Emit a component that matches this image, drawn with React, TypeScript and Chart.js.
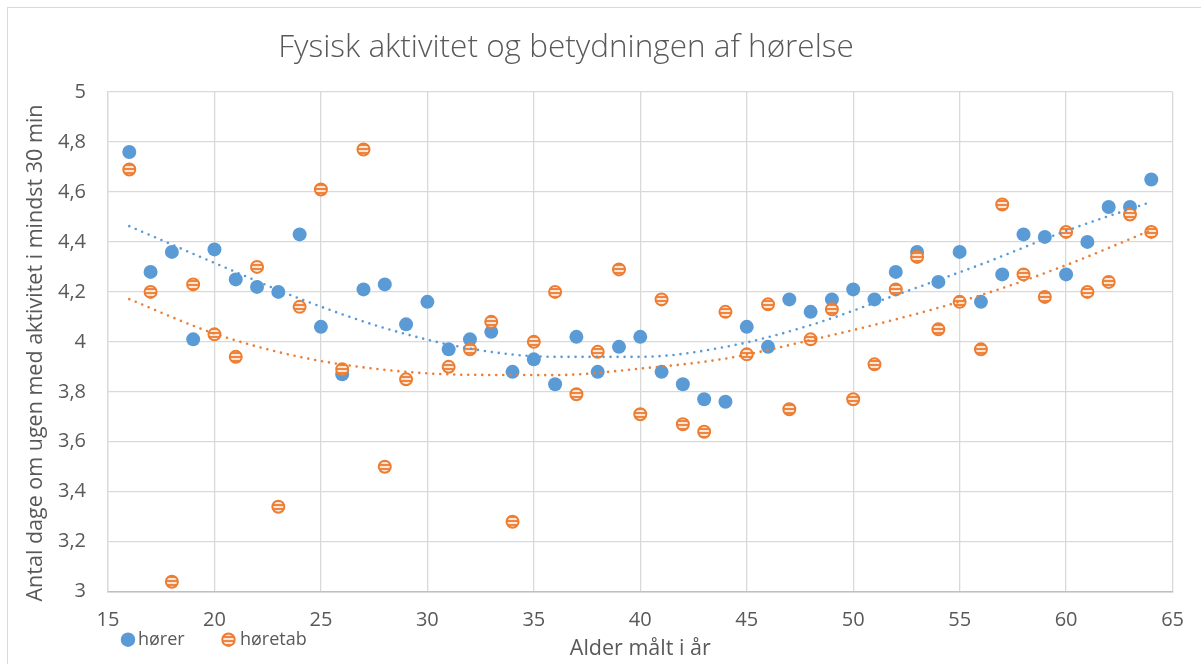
import React, { useEffect, useRef } from "react";
import { Chart, registerables } from "chart.js";

Chart.register(...registerables);

const chartTitle = "Fysisk aktivitet og betydningen af hørelse";
const xAxisTitle = "Alder målt i år";
const yAxisTitle = "Antal dage om ugen med aktivitet i mindst 30 min";
const seriesNames = ["hører", "høretab"];

const ages = [
  16, 17, 18, 19, 20, 21, 22, 23, 24, 25, 26, 27, 28, 29, 30, 31, 32, 33, 34, 35,
  36, 37, 38, 39, 40, 41, 42, 43, 44, 45, 46, 47, 48, 49, 50, 51, 52, 53, 54, 55,
  56, 57, 58, 59, 60, 61, 62, 63, 64,
];

const horerValues = [
  4.76, 4.28, 4.36, 4.01, 4.37, 4.25, 4.22, 4.2, 4.43, 4.06,
  3.87, 4.21, 4.23, 4.07, 4.16, 3.97, 4.01, 4.04, 3.88, 3.93,
  3.83, 4.02, 3.88, 3.98, 4.02, 3.88, 3.83, 3.77, 3.76, 4.06,
  3.98, 4.17, 4.12, 4.17, 4.21, 4.17, 4.28, 4.36, 4.24, 4.36,
  4.16, 4.27, 4.43, 4.42, 4.27, 4.4, 4.54, 4.54, 4.65,
];

const horetabValues: (number | null)[] = [
  4.69, 4.2, 3.04, 4.23, 4.03, 3.94, 4.3, 3.34, 4.14, 4.61,
  3.89, 4.77, 3.5, 3.85, null, 3.9, 3.97, 4.08, 3.28, 4.0,
  4.2, 3.79, 3.96, 4.29, 3.71, 4.17, 3.67, 3.64, 4.12, 3.95,
  4.15, 3.73, 4.01, 4.13, 3.77, 3.91, 4.21, 4.34, 4.05, 4.16,
  3.97, 4.55, 4.27, 4.18, 4.44, 4.2, 4.24, 4.51, 4.44,
];

// trendlines (polynomial)
const trendAges = [16, 20, 24, 28, 32, 36, 40, 44, 48, 52, 56, 60, 64];
const horerTrend = [4.463, 4.316, 4.173, 4.055, 3.973, 3.94, 3.94, 3.98, 4.067, 4.187, 4.31, 4.444, 4.56];
const horetabTrend = [4.171, 4.033, 3.94, 3.888, 3.868, 3.867, 3.893, 3.933, 4.007, 4.09, 4.187, 4.307, 4.447];

const xTickMin = 15;
const xTickMax = 65;
const xTickStep = 5;
const yTickMin = 3;
const yTickMax = 5;
const yTickStep = 0.2;

const BLUE = "#5B9BD5";
const ORANGE = "#ED7D31";
const TEXT = "#595959";
const FONT = "'Open Sans', Lato, 'Noto Sans', sans-serif";

function toPoints(xs: number[], ys: (number | null)[]) {
  const pts: { x: number; y: number }[] = [];
  xs.forEach((x, i) => {
    const y = ys[i];
    if (y !== null && y !== undefined) pts.push({ x, y });
  });
  return pts;
}

function makeStripePattern(ctx: CanvasRenderingContext2D) {
  const c = document.createElement("canvas");
  c.width = 4;
  c.height = 4;
  const g = c.getContext("2d")!;
  g.fillStyle = "#FCE6D6";
  g.fillRect(0, 0, 4, 4);
  g.fillStyle = "#EF8540";
  g.fillRect(0, 0, 4, 2);
  return ctx.createPattern(c, "repeat")!;
}

const decorPlugin = {
  id: "decor",
  afterDraw(chart: any) {
    const ctx: CanvasRenderingContext2D = chart.ctx;
    ctx.save();
    ctx.fillStyle = TEXT;
    ctx.textAlign = "center";
    ctx.textBaseline = "middle";
    // chart title
    ctx.font = `300 31.5px ${FONT}`;
    ctx.fillText(chartTitle, 558, 40);
    // y axis title
    ctx.save();
    ctx.translate(28, 345);
    ctx.rotate(-Math.PI / 2);
    ctx.font = `21.5px ${FONT}`;
    ctx.fillText(yAxisTitle, 0, 0);
    ctx.restore();
    // legend
    const iconX = [120, 220.5];
    const textX = [130, 232];
    const ly = 631.7;
    ctx.font = `18px ${FONT}`;
    ctx.textAlign = "left";
    for (let i = 0; i < 2; i++) {
      const ds = chart.data.datasets[i];
      ctx.beginPath();
      if (i === 0) {
        ctx.arc(iconX[i], ly, 7.2, 0, Math.PI * 2);
        ctx.fillStyle = ds.backgroundColor;
        ctx.fill();
      } else {
        ctx.arc(iconX[i], ly, 6.2, 0, Math.PI * 2);
        ctx.fillStyle = ds.backgroundColor;
        ctx.fill();
        ctx.lineWidth = 2;
        ctx.strokeStyle = ds.borderColor;
        ctx.stroke();
      }
      ctx.fillStyle = TEXT;
      ctx.fillText(ds.label, textX[i], ly);
    }
    ctx.restore();
  },
};

function formatComma(v: number) {
  return String(Math.round(v * 10) / 10).replace(".", ",");
}

export default function App() {
  const canvasRef = useRef<HTMLCanvasElement | null>(null);

  useEffect(() => {
    const canvas = canvasRef.current;
    if (!canvas) return;
    const ctx = canvas.getContext("2d")!;
    const pattern = makeStripePattern(ctx);

    const horerPts = toPoints(ages, horerValues);
    const horetabPts = toPoints(ages, horetabValues);

    const trendStyle = {
      type: "line",
      borderWidth: 2.6,
      borderDash: [0, 7],
      borderCapStyle: "round",
      pointRadius: 0,
      fill: false,
      cubicInterpolationMode: "monotone",
    };

    const chart = new Chart(ctx, {
      type: "scatter",
      data: {
        datasets: [
          {
            label: seriesNames[0],
            data: horerPts,
            backgroundColor: BLUE,
            borderColor: BLUE,
            borderWidth: 0,
            pointRadius: 7,
            order: 4,
          },
          {
            label: seriesNames[1],
            data: horetabPts,
            backgroundColor: pattern as any,
            borderColor: ORANGE,
            borderWidth: 2,
            pointRadius: 6,
            order: 3,
          },
          {
            ...trendStyle,
            label: "trend-" + seriesNames[0],
            data: toPoints(trendAges, horerTrend),
            borderColor: BLUE,
            order: 2,
          } as any,
          {
            ...trendStyle,
            label: "trend-" + seriesNames[1],
            data: toPoints(trendAges, horetabTrend),
            borderColor: ORANGE,
            order: 1,
          } as any,
        ],
      },
      options: {
        responsive: false,
        animation: false,
        events: [],
        layout: { padding: { top: 84, right: 23, bottom: 0, left: 0 } },
        plugins: {
          legend: { display: false },
          title: { display: false },
          tooltip: { enabled: false },
        },
        scales: {
          x: {
            type: "linear",
            min: xTickMin,
            max: xTickMax,
            afterFit: (s: any) => {
              s.height = 72.3;
            },
            ticks: {
              stepSize: xTickStep,
              color: TEXT,
              font: { family: FONT, size: 20 },
              padding: 17,
            },
            grid: { color: "#D9D9D9", lineWidth: 1.3, drawTicks: false },
            border: { color: "#BFBFBF", width: 1.5 },
            title: {
              display: true,
              text: xAxisTitle,
              color: TEXT,
              font: { family: FONT, size: 21.5 },
              padding: { top: 0, bottom: 2 },
            },
          },
          y: {
            type: "linear",
            min: yTickMin,
            max: yTickMax,
            afterFit: (s: any) => {
              s.width = 100;
            },
            ticks: {
              stepSize: yTickStep,
              color: TEXT,
              font: { family: FONT, size: 20 },
              padding: 22,
              callback: (v: any) => formatComma(Number(v)),
            },
            grid: { color: "#D9D9D9", lineWidth: 1.3, drawTicks: false },
            border: { color: "#D9D9D9", width: 1.3 },
            title: { display: false },
          },
        },
      },
      plugins: [decorPlugin],
    });

    return () => chart.destroy();
  }, []);

  return (
    <div
      style={{
        position: "fixed",
        left: 7,
        top: 7,
        borderTop: "1px solid #D9D9D9",
        borderLeft: "1px solid #D9D9D9",
        background: "#fff",
      }}
    >
      <canvas ref={canvasRef} width={1193} height={656} style={{ display: "block" }} />
    </div>
  );
}
